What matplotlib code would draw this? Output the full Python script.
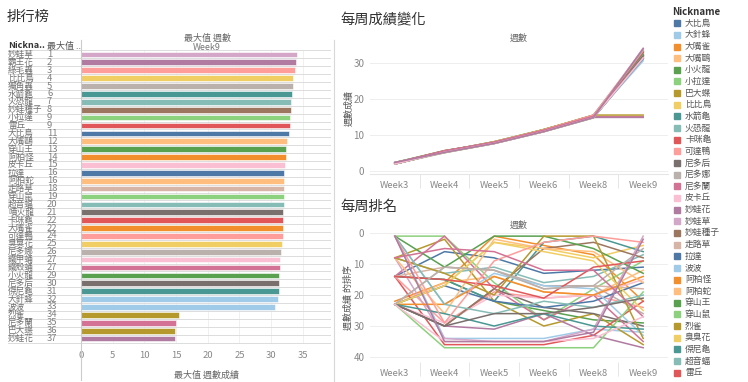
import matplotlib
matplotlib.use('Agg')
import matplotlib.pyplot as plt
from matplotlib.lines import Line2D
from matplotlib.patches import Rectangle

plt.rcParams['font.family'] = ['Noto Sans CJK TC', 'DejaVu Sans']

# ---------------- data ----------------
weeks = ['Week3', 'Week4', 'Week5', 'Week6', 'Week8', 'Week9']

names = ['大比鳥', '大針蜂', '大嘴雀', '大嘴鷗', '小火龍', '小拉達', '巴大蝶', '比比鳥',
         '水箭龜', '火恐龍', '卡咪龜', '可達鴨', '尼多后', '尼多娜', '尼多蘭', '皮卡丘',
         '妙蛙花', '妙蛙草', '妙蛙種子', '走路草', '拉達', '波波', '阿柏怪', '阿柏蛇',
         '穿山王', '穿山鼠', '烈雀', '臭臭花', '傑尼龜', '超音蝠', '雷丘', '綠毛蟲',
         '噴火龍', '獨角蟲', '鐵殼蛹', '鐵甲蛹', '霸王花']

palette = ['#4E79A7', '#A0CBE8', '#F28E2B', '#FFBE7D', '#59A14F', '#8CD17D', '#B6992D',
           '#F1CE63', '#499894', '#86BCB6', '#E15759', '#FF9D9A', '#79706E', '#BAB0AC',
           '#D37295', '#FABFD2', '#B07AA1', '#D4A6C8', '#9D7660', '#D7B5A6']

final_score = [32.8, 31.1, 31.9, 32.45, 31.3, 33.0, 14.9, 33.5, 33.25, 33.2, 31.92, 31.85,
               31.28, 31.5, 15.0, 32.2, 14.85, 34.1, 33.15, 32.05, 32.1, 30.6, 32.3, 32.1,
               32.4, 32.0, 15.5, 31.7, 31.25, 31.98, 33.0, 33.8, 31.95, 33.4, 31.4, 31.42, 34.0]
final_rank = [11, 32, 22, 12, 29, 9, 36, 4, 6, 7, 22, 24, 30, 26, 35, 15, 37, 1, 8, 18, 16,
              33, 14, 16, 13, 19, 34, 25, 31, 20, 9, 3, 21, 5, 27, 27, 2]

score_w3 = [2.1, 2.3, 2.0, 1.9, 2.1, 2.3, 2.2, 1.9, 2.1, 2.2, 2.1, 2.1, 1.9, 1.9, 2.1, 1.9,
            1.9, 2.2, 1.9, 2.1, 1.9, 2.3, 1.9, 2.2, 2.3, 1.9, 2.2, 1.9, 1.9, 2.3, 2.1, 2.3,
            1.9, 1.9, 2.2, 1.9, 2.3]
score_w4 = [5.5, 5.1, 5.35, 5.35, 5.4, 5.6, 5.6, 5.35, 5.4, 5.4, 5.05, 5.2, 5.2, 5.45, 5.6,
            5.2, 5.2, 5.1, 5.2, 5.45, 5.35, 5.3, 5.3, 5.25, 5.45, 5.0, 5.4, 5.35, 5.25, 5.3,
            5.4, 5.2, 5.2, 5.45, 5.55, 5.1, 5.1]
score_w5 = [7.95, 7.6, 8.1, 7.9, 7.8, 7.85, 7.8, 8.05, 7.8, 7.9, 7.6, 7.85, 7.85, 7.9, 7.85,
            7.85, 7.7, 7.6, 7.85, 7.9, 7.8, 7.9, 7.9, 8.05, 8.1, 7.55, 7.85, 8.05, 7.7, 7.75,
            7.85, 7.95, 7.75, 7.9, 8.0, 7.6, 7.6]
score_w6 = [11.3, 10.9, 11.4, 11.2, 11.1, 11.0, 11.0, 11.4, 11.4, 11.2, 10.9, 11.15, 11.1,
            11.2, 11.0, 11.15, 11.1, 10.9, 11.4, 11.2, 11.1, 11.2, 11.2, 11.4, 11.5, 10.85,
            11.5, 11.4, 11.1, 11.15, 11.15, 11.4, 11.1, 11.2, 11.3, 10.9, 10.9]
score_w8 = [15.2, 14.8, 15.3, 15.0, 14.85, 15.1, 14.9, 15.3, 15.5, 15.2, 14.85, 15.0, 14.9,
            15.1, 15.0, 15.0, 14.85, 14.8, 15.4, 15.1, 15.0, 15.1, 15.0, 15.3, 15.3, 14.7,
            15.5, 15.3, 14.85, 14.9, 15.2, 15.5, 14.9, 15.1, 15.2, 14.8, 14.8]

rank_w3 = [14, 1, 22, 23, 14, 1, 8, 23, 14, 8, 14, 14, 23, 23, 14, 23, 23, 8, 23, 14, 23, 1,
           23, 8, 1, 23, 8, 23, 23, 1, 14, 1, 23, 23, 8, 23, 1]
rank_w4 = [6, 34, 16, 16, 15, 1, 2, 17, 15, 13, 36, 29, 30, 11, 1, 29, 30, 34, 30, 11, 17,
           23, 23, 26, 11, 37, 13, 17, 26, 23, 15, 29, 30, 11, 5, 35, 35]
rank_w5 = [8, 34, 1, 14, 22, 16, 22, 3, 22, 11, 36, 19, 18, 12, 18, 20, 31, 35, 18, 12, 22,
           13, 14, 2, 1, 37, 20, 3, 30, 26, 17, 9, 26, 12, 6, 35, 35]
rank_w6 = [13, 34, 4, 19, 25, 28, 30, 5, 3, 16, 36, 21, 24, 17, 28, 21, 26, 35, 5, 18, 24,
           17, 19, 5, 1, 37, 1, 6, 26, 22, 21, 3, 26, 18, 12, 35, 35]
rank_w8 = [12, 31, 7, 20, 28, 18, 26, 8, 1, 14, 33, 20, 26, 17, 20, 20, 33, 31, 3, 17, 22,
           18, 20, 6, 5, 37, 1, 9, 30, 24, 11, 1, 24, 17, 12, 34, 32]

# ---------------- layout helpers ----------------
W, H = 748, 382
fig = plt.figure(figsize=(W / 100, H / 100), dpi=100)


def fx(px):
    return px / W


def fy(py):
    return 1 - py / H


def axes_px(x0, y0, x1, y1):
    return fig.add_axes([fx(x0), fy(y1), (x1 - x0) / W, (y1 - y0) / H])


def ftext(x, y, s, **kw):
    fig.text(fx(x), fy(y), s, **kw)


def fline(x0, y0, x1, y1, color='#d4d4d4', lw=0.8):
    fig.add_artist(Line2D([fx(x0), fx(x1)], [fy(y0), fy(y1)], color=color, lw=lw,
                          transform=fig.transFigure))


colors = [palette[i % len(palette)] for i in range(len(names))]
TITLE = dict(fontsize=10.3, color='#333333', va='center', ha='left')
SMALL = dict(fontsize=6.5, color='#666666')

# ---------------- left: leaderboard ----------------
ftext(7, 17, '排行榜', **TITLE)
ftext(8, 46, 'Nickna..', fontsize=6.5, color='#333333', fontweight='bold', va='center')
ftext(47, 46, '最大值 ..', fontsize=6.5, color='#555555', va='center')
ftext(207, 38, '最大值 週數', ha='center', va='center', **SMALL)
ftext(207, 47, 'Week9', ha='center', va='center', fontsize=6.5, color='#777777')

order = sorted(range(len(names)), key=lambda i: (final_rank[i], -final_score[i]))
n = len(order)
axL = axes_px(81, 50.5, 330, 342.5)
ypos = list(range(n))
axL.barh(ypos, [final_score[i] for i in order], height=0.72,
         color=[colors[i] for i in order], edgecolor='white', linewidth=0.4, zorder=3)
axL.set_ylim(n - 0.5, -0.5)
axL.set_xlim(0, 39.3)
axL.set_yticks([])
axL.set_xticks(range(0, 40, 5))
axL.tick_params(axis='x', length=0, labelsize=6.8, labelcolor='#888888', pad=6)
for sp in axL.spines.values():
    sp.set_visible(False)
for xv in range(5, 40, 5):
    axL.axvline(xv, color='#f0f0f0', lw=0.7, zorder=0)
tr = axL.get_yaxis_transform()
x_name = (8 - 81) / (330 - 81)
x_rank = (47 - 81) / (330 - 81)
for k in range(n + 1):
    axL.plot([x_name, 1], [k - 0.5, k - 0.5], transform=tr, color='#dcdcdc', lw=0.7,
             clip_on=False, zorder=1)
for k, i in enumerate(order):
    axL.text(x_name, k, names[i], transform=tr, fontsize=6.2, color='#707070',
             va='center', ha='left')
    axL.text(x_rank, k, str(final_rank[i]), transform=tr, fontsize=6.8, color='#808080',
             va='center', ha='left')
ftext(207, 375, '最大值 週數成績', ha='center', va='center', **SMALL)
fline(81, 40, 81, 380, color='#cccccc', lw=0.8)

# ---------------- right: weekly score & rank ----------------
fline(334, 40, 334, 382, color='#d8d8d8', lw=0.8)
score_weeks = [score_w3, score_w4, score_w5, score_w6, score_w8, final_score]
rank_weeks = [rank_w3, rank_w4, rank_w5, rank_w6, rank_w8, final_rank]
xpos = list(range(len(weeks)))


def style_line_axes(ax):
    ax.set_xlim(-0.5, len(weeks) - 0.5)
    ax.set_xticks(xpos)
    ax.set_xticklabels(weeks)
    ax.set_xticks([x + 0.5 for x in xpos[:-1]], minor=True)
    ax.tick_params(axis='x', which='major', length=0, labelsize=6.8,
                   labelcolor='#888888', pad=5)
    ax.tick_params(axis='x', which='minor', length=10, color='#e6e6e6', width=0.7)
    ax.tick_params(axis='y', length=0, labelsize=7, labelcolor='#888888', pad=4)
    for sp in ax.spines.values():
        sp.set_visible(False)
    ax.grid(axis='y', color='#eeeeee', lw=0.7)
    ax.set_axisbelow(True)


# top: score change
ftext(340, 20, '每周成績變化', **TITLE)
ftext(519, 38, '週數', ha='center', va='center', **SMALL)
axT = axes_px(370, 45, 668, 174)
for i in range(len(names)):
    axT.plot(xpos, [score_weeks[w][i] for w in range(len(weeks))], color=colors[i],
             lw=1.1, solid_joinstyle='round')
axT.set_ylim(-0.9, 35)
axT.set_yticks([0, 10, 20, 30])
style_line_axes(axT)
axT.spines['bottom'].set_visible(True)
axT.spines['bottom'].set_color('#e6e6e6')
ftext(349, 108, '週數成績', rotation=90, ha='center', va='center', fontsize=6.5,
      color='#555555')

# bottom: weekly rank
ftext(340, 207, '每周排名', **TITLE)
ftext(519, 225, '週數', ha='center', va='center', **SMALL)
axB = axes_px(370, 229, 668, 362)
for i in range(len(names)):
    axB.plot(xpos, [rank_weeks[w][i] for w in range(len(weeks))], color=colors[i],
             lw=1.1, solid_joinstyle='round')
axB.set_ylim(41.6, -1.3)
axB.set_yticks([0, 10, 20, 30, 40])
style_line_axes(axB)
ftext(348, 297, '週數成績 的排序', rotation=90, ha='center', va='center', fontsize=6.5,
      color='#555555')

# ---------------- legend ----------------
ftext(672, 12, 'Nickname', fontsize=7, color='#333333', fontweight='bold', va='center')
for i, nm in enumerate(names):
    yc = 23.2 + 11.65 * i
    if yc > H - 5:
        break
    fig.add_artist(Rectangle((fx(674), fy(yc + 3)), 6 / W, 6 / H, color=colors[i],
                             transform=fig.transFigure))
    ftext(685, yc, nm, fontsize=6.3, color='#555555', va='center', ha='left')

fig.savefig('out.png', dpi=100)
